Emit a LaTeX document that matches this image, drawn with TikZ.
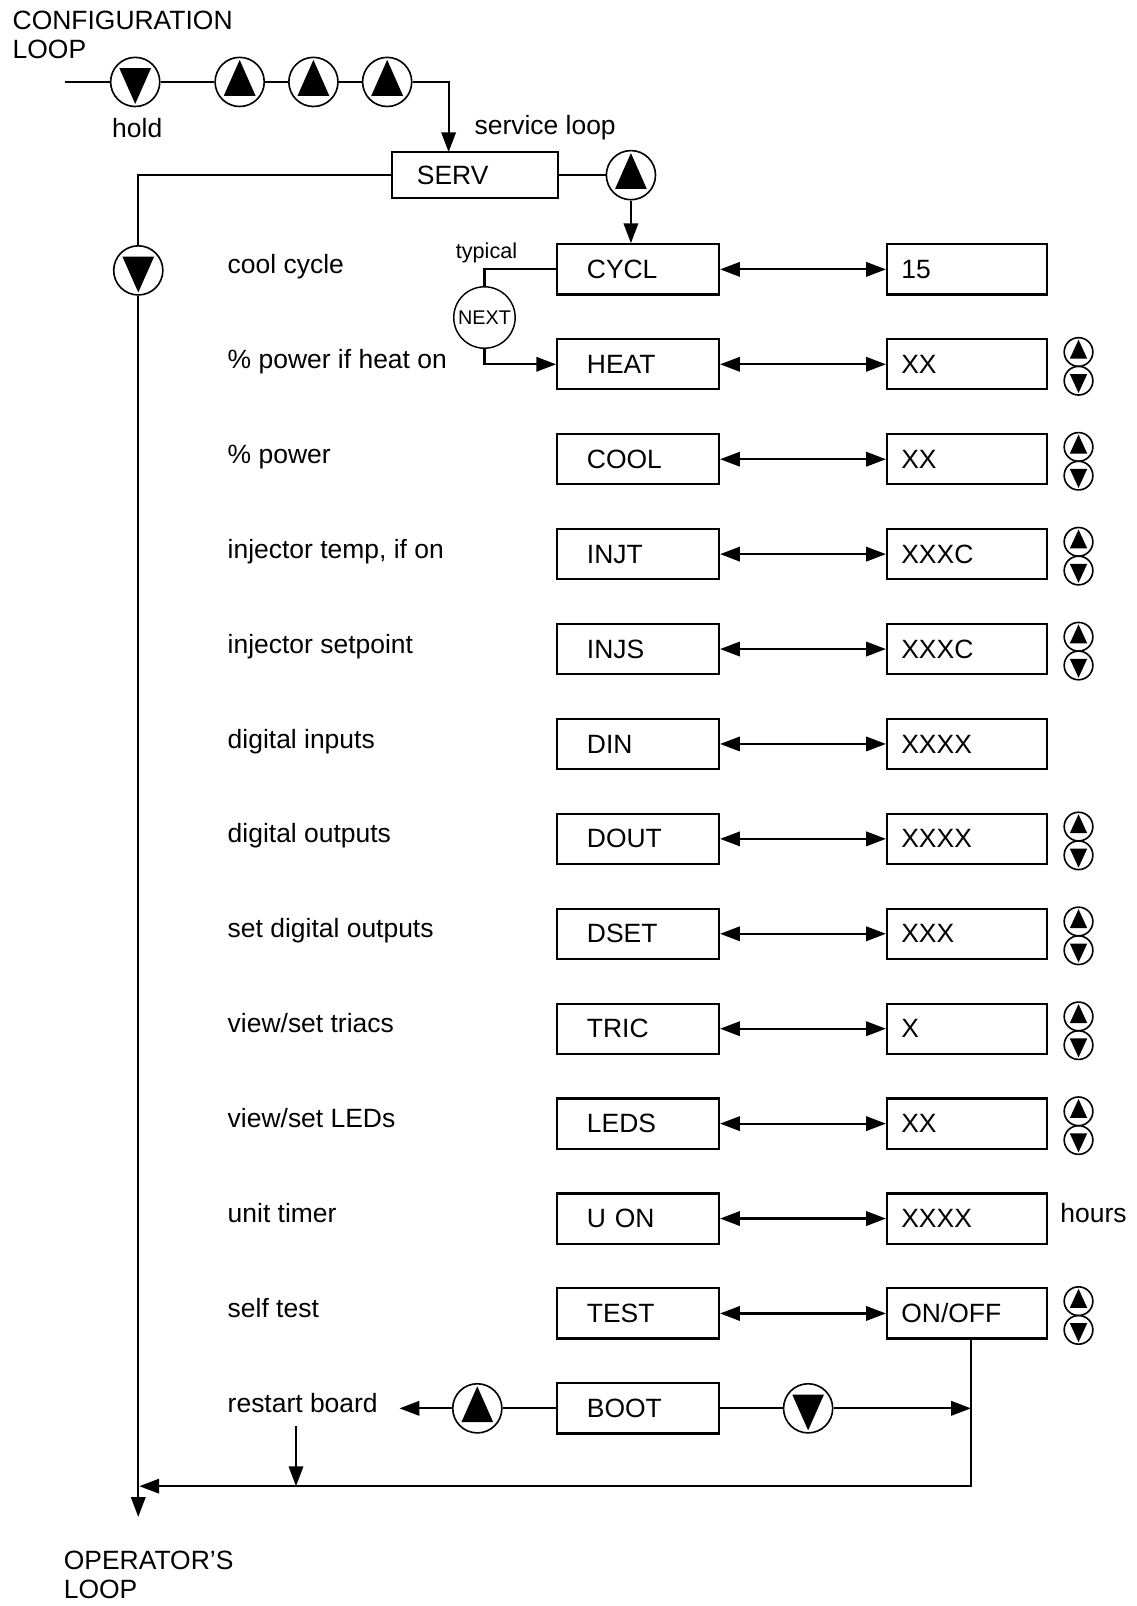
\documentclass[tikz,border=0pt]{standalone}
\usepackage{fontspec}
\setmainfont{Liberation Sans}
\usetikzlibrary{arrows.meta,calc}
\begin{document}
\begin{tikzpicture}[x=0.02cm,y=-0.02cm,
  ln/.style={line width=1.2pt},
  arr/.style={ln,-{Triangle[length=11pt,width=8pt]}},
  darr/.style={ln,{Triangle[length=11pt,width=8pt]}-{Triangle[length=11pt,width=8pt]}},
  txt/.style={font=\fontsize{14.7}{15.9}\selectfont, inner sep=0pt},
  lbox/.style={draw, ln, txt, inner xsep=0.58cm, text width=2.0cm, minimum height=0.98cm, align=left},
  rbox/.style={draw, ln, txt, inner xsep=0.28cm, text width=2.56cm, minimum height=0.98cm, align=left},
  sbox/.style={draw, ln, txt, inner xsep=0.48cm, text width=2.28cm, minimum height=0.9cm, align=left},
  upbtn/.style={circle, draw, line width=0.9pt, minimum size=0.96cm, inner sep=0pt,
    path picture={\fill[shift={(path picture bounding box.center)}] (0,0.43cm) -- (0.31cm,-0.27cm) -- (-0.31cm,-0.27cm) -- cycle;}},
  dnbtn/.style={circle, draw, line width=0.9pt, minimum size=0.96cm, inner sep=0pt,
    path picture={\fill[shift={(path picture bounding box.center)}] (0,-0.43cm) -- (0.31cm,0.27cm) -- (-0.31cm,0.27cm) -- cycle;}},
  sup/.style={circle, draw, line width=0.9pt, minimum size=0.56cm, inner sep=0pt,
    path picture={\fill[shift={(path picture bounding box.center)}] (0,0.24cm) -- (0.17cm,-0.13cm) -- (-0.17cm,-0.13cm) -- cycle;}},
  sdn/.style={circle, draw, line width=0.9pt, minimum size=0.56cm, inner sep=0pt,
    path picture={\fill[shift={(path picture bounding box.center)}] (0,-0.24cm) -- (0.17cm,0.13cm) -- (-0.17cm,0.13cm) -- cycle;}},
  nextc/.style={circle, draw, line width=0.8pt, minimum size=1.2cm, inner sep=0pt, font=\fontsize{11}{12}\selectfont}
]
\useasboundingbox (0,0) rectangle (1110,1568);

% top: configuration loop
\node[txt, anchor=west, align=left] (cfg) at (12,34) {CONFIGURATION\\LOOP};
\coordinate (cstart) at (63,80);
\node[dnbtn] (hold) at (132,80) {};
\node[upbtn] (u1) at (234,80) {};
\node[upbtn] (u2) at (306,80) {};
\node[upbtn] (u3) at (378,80) {};
\draw[ln] (cstart) -- (hold) -- (u1) -- (u2) -- (u3);
\node[txt] (holdlbl) at (134,125) {hold};
\node[txt, anchor=west] (svclbl) at (463,125) {service loop};
\node[sbox] (serv) at (464,171) {SERV};
\coordinate (sin) at (438,148.5);
\draw[arr] (u3) -| (sin);
\node[upbtn] (s1) at (616,171) {};
\draw[ln] (serv) -- (s1);

% rows
\foreach \i/\lab/\lt/\rt/\ic in {
  1/cool cycle/CYCL/15/0,
  2/\% power if heat on/HEAT/XX/1,
  3/\% power/COOL/XX/1,
  4/{injector temp, if on}/INJT/XXXC/1,
  5/injector setpoint/INJS/XXXC/1,
  6/digital inputs/DIN/XXXX/0,
  7/digital outputs/DOUT/XXXX/1,
  8/set digital outputs/DSET/XXX/1,
  9/{view/set triacs}/TRIC/X/1,
  10/{view/set LEDs}/LEDS/XX/1,
  11/unit timer/U ON/XXXX/0,
  12/self test/TEST/{ON/OFF}/1}{
  \pgfmathsetmacro\cy{263+92.67*(\i-1)}
  \node[lbox] (L\i) at (623,\cy) {\lt};
  \node[rbox] (R\i) at (944,\cy) {\rt};
  \draw[darr] (L\i) -- (R\i);
  \node[txt, anchor=base west] (lab\i) at (222,{\cy+4}) {\lab};
  \ifnum\ic=1
    \node[sup] (iu\i) at (1053,{\cy-12}) {};
    \node[sdn] (id\i) at (1053,{\cy+16}) {};
  \fi
}
\node[txt, anchor=base west] (hrs) at (1035,{263+92.67*10+4}) {hours};

\draw[arr] (s1) -- (s1 |- L1.north);

% typical / NEXT
\node[font=\fontsize{12}{13}\selectfont, inner sep=0pt] (typ) at (475,247) {typical};
\node[nextc] (nx) at (473,310) {NEXT};
\coordinate (tj) at (473,263);
\draw[ln] (L1.west) -- (tj) -- (nx);
\draw[arr] (nx) |- (L2.west);

% left loop line
\node[dnbtn] (dl) at (135,264) {};
\draw[ln] (serv.west) -| (dl);
\coordinate (olt) at (135,1481);
\draw[arr] (dl) -- (olt);
\node[txt, anchor=north west, align=left] (ol) at (62,1514) {OPERATOR'S\\LOOP};

% boot row
\node[lbox] (L13) at (623,1375) {BOOT};
\node[upbtn] (bu) at (466,1375) {};
\node[dnbtn] (bd) at (789,1375) {};
\node[txt, anchor=base west] (rb) at (222,1379) {restart board};
\coordinate (rbt) at (390,1375);
\draw[ln] (L13) -- (bu);
\draw[arr] (bu) -- (rbt);
\draw[ln] (L13) -- (bd);
\coordinate (rdrop) at (948,1307);
\draw[arr] (bd) -- (bd -| rdrop);
\coordinate (jn) at (136,1451);
\draw[arr] (rdrop) |- (jn);
\coordinate (rbd1) at (289,1392);
\coordinate (rbd2) at (289,1451);
\draw[arr] (rbd1) -- (rbd2);
\end{tikzpicture}
\end{document}
